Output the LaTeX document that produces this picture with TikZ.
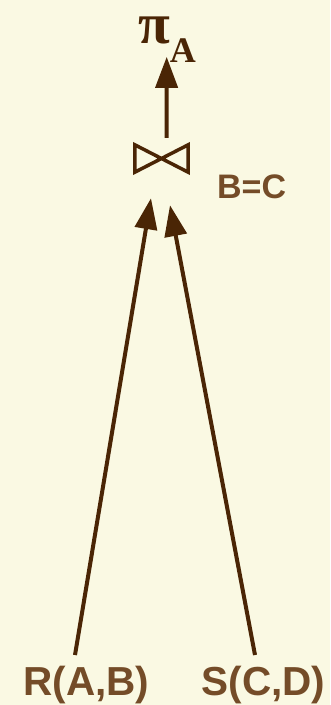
\documentclass[tikz,border=0pt]{standalone}
\usepackage{fontspec}
\setmainfont{Liberation Sans}
\newfontfamily\serifgr{Liberation Serif}
\usetikzlibrary{arrows.meta,calc}
\definecolor{paper}{HTML}{FAF9E3}
\definecolor{lbrown}{HTML}{744C28}
\definecolor{dbrown}{HTML}{4A2505}
\tikzset{
  rel/.style    ={text=lbrown, inner sep=0pt, font=\fontsize{40.5}{40.5}\selectfont\bfseries},
  cond/.style   ={text=lbrown, inner sep=0pt, font=\fontsize{34}{34}\selectfont\bfseries},
  proj/.style   ={text=dbrown, inner sep=0pt, text height=32pt},
  joinbox/.style={minimum width=53pt, minimum height=27pt, inner sep=0pt},
  tie/.style    ={draw=dbrown, line width=3.5pt, miter limit=3},
  ar/.style     ={-{Triangle[length=31pt,width=22pt]}, draw=dbrown, fill=dbrown, line width=4pt},
}
\begin{document}
\begin{tikzpicture}[x=1pt,y=-1pt]
\fill[paper] (0,0) rectangle (330,705);
\useasboundingbox (0,0) rectangle (330,705);
\node[rel, anchor=base] (R) at (86.5,695) {R(A,B)};
\node[rel, anchor=base] (S) at (263.5,695) {S(C,D)};
\node[joinbox] (join) at (161.5,158.5) {};
\draw[tie] (join.north west) -- (join.south east) -- (join.north east) -- (join.south west) -- cycle;
\node[cond, anchor=base west] (bc) at (217,198) {B=C};
\node[proj, anchor=base west] (pi) at (138,43)
  {\serifgr\fontsize{58}{58}\selectfont\bfseries π\fontsize{36}{36}\selectfont\raisebox{-19pt}{A}};
\draw[ar] ($(R.base)+(-11.5,-40)$) -- ($(join.south)+(-10.5,26)$);
\draw[ar] ($(S.base)+(-8.5,-40)$) -- ($(join.south)+(8.5,33)$);
\draw[ar] ($(join.north)+(5,-7)$) -- ($(join.north)+(5.2,-88)$);
\end{tikzpicture}
\end{document}
